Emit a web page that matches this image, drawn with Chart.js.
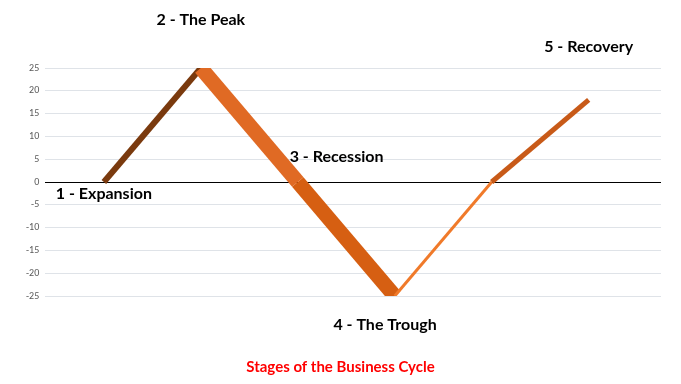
<!DOCTYPE html>
<html>
<head>
<meta charset="utf-8">
<script src="https://cdn.jsdelivr.net/npm/chart.js@4/dist/chart.umd.min.js"></script>
<style>
  html, body { margin: 0; padding: 0; background: #ffffff; }
  #wrap { width: 681px; height: 384px; position: relative; }
</style>
</head>
<body>
<div id="wrap"><canvas id="c" width="681" height="384"></canvas></div>
<script>
// ---- data ----
const categories = [0, 1, 2, 3, 4, 5];
const cycleValues = [0, 25, 0, -25, 0, 18];
const yTicks = [-25, -20, -15, -10, -5, 0, 5, 10, 15, 20, 25];
const stageLabels = ["1 - Expansion", "2 - The Peak", "3 - Recession", "4 - The Trough", "5 - Recovery"];
const stageLabelX = [0.0, 1.0, 2.4, 2.9, 5.0];
const stageLabelY = [-2.6, 35.5, 5.5, -31.4, 29.6];
const chartTitle = "Stages of the Business Cycle";

// segment styling to mimic the shaded ribbon
const segColors = ["#7a3a0e", "#e06a24", "#d65f12", "#f07a2a", "#c85a18"];
const segWidths = [6, 15, 15, 3, 5];

const labelPlugin = {
  id: 'stageLabels',
  afterDatasetsDraw(chart) {
    const { ctx, scales } = chart;
    ctx.save();
    ctx.font = 'bold 16px Lato, "Open Sans", sans-serif';
    ctx.fillStyle = '#000000';
    ctx.textAlign = 'center';
    ctx.textBaseline = 'middle';
    stageLabels.forEach((t, i) => {
      ctx.fillText(t, scales.x.getPixelForValue(stageLabelX[i]), scales.y.getPixelForValue(stageLabelY[i]));
    });
    ctx.restore();
  }
};

new Chart(document.getElementById('c'), {
  type: 'line',
  data: {
    datasets: [{
      label: 'Business cycle',
      data: categories.map((c, i) => ({ x: c, y: cycleValues[i] })),
      borderColor: '#e06a24',
      borderWidth: 8,
      borderJoinStyle: 'miter',
      pointRadius: 0,
      tension: 0,
      segment: {
        borderColor: ctx => segColors[ctx.p0DataIndex],
        borderWidth: ctx => segWidths[ctx.p0DataIndex]
      }
    }]
  },
  options: {
    responsive: false,
    animation: false,
    layout: { padding: { top: 68, left: 20, right: 20, bottom: 0 } },
    plugins: {
      legend: { display: false },
      tooltip: { enabled: false },
      title: {
        display: true,
        text: chartTitle,
        position: 'bottom',
        color: '#ff0000',
        font: { family: 'Lato, "Open Sans", sans-serif', size: 15, weight: 'bold' },
        padding: { top: 62, bottom: 8 }
      }
    },
    scales: {
      x: {
        type: 'linear',
        min: -0.605,
        max: 5.746,
        display: false
      },
      y: {
        min: -25,
        max: 25,
        afterBuildTicks: s => { s.ticks = yTicks.map(v => ({ value: v })); },
        ticks: {
          color: '#595959',
          font: { family: 'Calibri, "Liberation Sans", Arial, sans-serif', size: 10 },
          padding: 6
        },
        border: { display: false },
        grid: {
          drawTicks: false,
          color: ctx => ctx.tick && ctx.tick.value === 0 ? '#000000' : '#dfe3e8',
          lineWidth: 1
        }
      }
    }
  },
  plugins: [labelPlugin]
});
</script>
</body>
</html>
